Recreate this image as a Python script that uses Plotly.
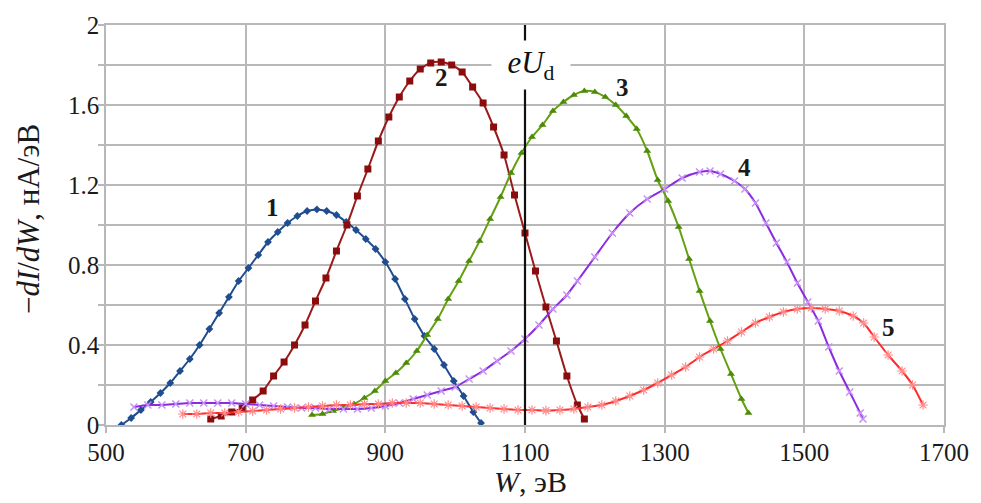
import plotly.graph_objects as go

# ---- data ----
w1 = [522, 536, 550, 564, 578, 592, 606, 620, 634, 648, 662, 676, 690, 704, 718, 732, 746, 760, 774, 788,
      802, 816, 830, 844, 858, 872, 886, 900, 914, 928, 942, 956, 970, 984, 998, 1012, 1026, 1037]
v1 = [0.00, 0.035, 0.075, 0.115, 0.16, 0.21, 0.27, 0.33, 0.40, 0.48, 0.56, 0.64, 0.72, 0.785, 0.85, 0.915,
      0.965, 1.01, 1.045, 1.07, 1.078, 1.07, 1.05, 1.015, 0.975, 0.93, 0.88, 0.815, 0.73, 0.63, 0.53, 0.445,
      0.38, 0.30, 0.22, 0.145, 0.065, 0.01]

w2 = [650, 665, 680, 695, 710, 725, 740, 755, 770, 785, 800, 815, 830, 845, 860, 875, 890, 905, 920, 935,
      950, 965, 980, 995, 1010, 1025, 1040, 1055, 1070, 1085, 1100, 1115, 1130, 1145, 1160, 1175, 1185]
v2 = [0.03, 0.045, 0.065, 0.085, 0.125, 0.17, 0.245, 0.315, 0.40, 0.50, 0.62, 0.735, 0.87, 1.00, 1.145,
      1.28, 1.42, 1.54, 1.64, 1.72, 1.78, 1.81, 1.815, 1.80, 1.765, 1.69, 1.61, 1.49, 1.35, 1.15, 0.96, 0.77,
      0.59, 0.42, 0.245, 0.10, 0.03]

w3 = [795, 810, 825, 840, 855, 870, 885, 900, 915, 930, 945, 960, 975, 990, 1005, 1020, 1035, 1050, 1065,
      1080, 1095, 1110, 1125, 1140, 1155, 1170, 1185, 1200, 1215, 1230, 1245, 1260, 1275, 1290, 1305, 1320,
      1335, 1350, 1365, 1380, 1395, 1410, 1420]
v3 = [0.05, 0.055, 0.07, 0.085, 0.105, 0.135, 0.17, 0.22, 0.26, 0.31, 0.37, 0.45, 0.53, 0.63, 0.72, 0.82,
      0.92, 1.03, 1.14, 1.26, 1.36, 1.44, 1.50, 1.57, 1.615, 1.65, 1.67, 1.665, 1.64, 1.60, 1.545, 1.48, 1.37,
      1.225, 1.12, 0.99, 0.83, 0.67, 0.52, 0.38, 0.255, 0.13, 0.06]

w4 = [540, 560, 580, 600, 620, 640, 660, 680, 700, 720, 740, 760, 780, 800, 820, 840, 860, 880, 900, 920,
      940, 960, 980, 1000, 1020, 1040, 1060, 1080, 1100, 1120, 1140, 1160, 1175, 1200, 1225, 1250, 1275,
      1300, 1325, 1350, 1365, 1380, 1400, 1415, 1430, 1445, 1460, 1475, 1490, 1505, 1520, 1535, 1550, 1565,
      1580, 1584]
v4 = [0.09, 0.10, 0.10, 0.105, 0.11, 0.11, 0.11, 0.11, 0.105, 0.10, 0.095, 0.09, 0.085, 0.085, 0.08, 0.08,
      0.08, 0.085, 0.095, 0.11, 0.13, 0.15, 0.17, 0.19, 0.23, 0.27, 0.32, 0.37, 0.43, 0.50, 0.58, 0.65, 0.72,
      0.84, 0.96, 1.06, 1.13, 1.18, 1.235, 1.265, 1.27, 1.255, 1.22, 1.18, 1.11, 1.01, 0.91, 0.815, 0.71,
      0.615, 0.52, 0.39, 0.27, 0.165, 0.06, 0.03]

w5 = [610, 630, 650, 670, 690, 710, 730, 750, 770, 790, 810, 830, 850, 870, 890, 910, 930, 950, 970, 990,
      1010, 1030, 1050, 1070, 1090, 1110, 1130, 1150, 1170, 1190, 1210, 1230, 1250, 1270, 1290, 1310, 1330,
      1350, 1370, 1390, 1410, 1430, 1450, 1470, 1490, 1510, 1530, 1550, 1570, 1585, 1600, 1620, 1640, 1655,
      1670]
v5 = [0.055, 0.055, 0.06, 0.06, 0.065, 0.07, 0.075, 0.08, 0.085, 0.09, 0.095, 0.10, 0.10, 0.105, 0.105,
      0.11, 0.11, 0.11, 0.105, 0.10, 0.095, 0.09, 0.085, 0.08, 0.075, 0.075, 0.072, 0.075, 0.08, 0.09, 0.10,
      0.12, 0.145, 0.175, 0.21, 0.25, 0.29, 0.34, 0.38, 0.42, 0.465, 0.51, 0.54, 0.565, 0.58, 0.585, 0.58,
      0.57, 0.545, 0.51, 0.44, 0.35, 0.27, 0.20, 0.10]

curve_labels = ["1", "2", "3", "4", "5"]
x_ticks = [500, 700, 900, 1100, 1300, 1500, 1700]
y_ticks = [0, 0.4, 0.8, 1.2, 1.6, 2]
y_tick_text = ["0", "0.4", "0.8", "1.2", "1.6", "2"]
eUd = 1100

SERIF = "Liberation Serif, Times New Roman, DejaVu Serif, serif"
TXT = "#1a1a1a"

fig = go.Figure()

series = [
    (w1, v1, "#1f4d8f", dict(symbol="diamond", size=6, color="#1f4d8f")),
    (w2, v2, "#9a1a1a", dict(symbol="square", size=7, color="#8b0c0c")),
    (w3, v3, "#62a010", dict(symbol="triangle-up", size=7, color="#4d8a08")),
    (w4, v4, "#8a2be2", dict(symbol="x-thin-open", size=7, color="#c690f5",
                             line=dict(width=1.5, color="#c690f5"))),
    (w5, v5, "#ff2a2a", dict(symbol="asterisk-open", size=8, color="#ff8c8c",
                             line=dict(width=1.2, color="#ff8c8c"))),
]
for xs, ys, col, mk in series:
    fig.add_trace(go.Scatter(x=xs, y=ys, mode="lines+markers",
                             line=dict(color=col, width=2, shape="spline", smoothing=0.6),
                             marker=mk, showlegend=False, hoverinfo="skip"))

# vertical eU_d line
fig.add_shape(type="line", x0=eUd, x1=eUd, y0=0, y1=2, xref="x", yref="y",
              line=dict(color="#111111", width=2.2), layer="above")

fig.add_annotation(x=eUd, y=1.8, xref="x", yref="y", text="<i>eU</i><sub>d</sub>",
                   showarrow=False, bgcolor="white", width=76, height=46,
                   xanchor="center", yanchor="middle",
                   font=dict(family=SERIF, size=31, color="#111111"), xshift=6)

label_pos = [(738, 1.09), (980, 1.74), (1240, 1.69), (1415, 1.29), (1620, 0.49)]
for t, (lx, ly) in zip(curve_labels, label_pos):
    fig.add_annotation(x=lx, y=ly, xref="x", yref="y", text=f"<b>{t}</b>", showarrow=False,
                       xanchor="center", yanchor="middle",
                       font=dict(family=SERIF, size=25, color=TXT))

# axis titles
fig.add_annotation(x=-0.093, y=0.515, xref="paper", yref="paper", textangle=-90,
                   xanchor="center", yanchor="middle",
                   text="\u2212<i>dI</i>/<i>dW</i>, нА/эВ", showarrow=False,
                   font=dict(family=SERIF, size=31, color=TXT))
fig.add_annotation(x=0.506, y=-0.142, xref="paper", yref="paper",
                   xanchor="center", yanchor="middle",
                   text="<i>W</i>, эВ", showarrow=False,
                   font=dict(family=SERIF, size=30, color=TXT))

grid_col = "#b8b8b8"
fig.update_layout(
    width=981, height=503,
    margin=dict(l=106, r=33, t=20, b=78),
    paper_bgcolor="white", plot_bgcolor="white",
    font=dict(family=SERIF),
    xaxis=dict(range=[500, 1700], tickvals=x_ticks, ticktext=[str(v) for v in x_ticks],
               showgrid=True, gridcolor=grid_col, gridwidth=1.6,
               showline=True, linecolor=grid_col, linewidth=1.6, mirror=True,
               ticks="outside", ticklen=6, tickcolor=grid_col, tickwidth=1.6,
               zeroline=False, ticklabelstandoff=-2,
               tickfont=dict(family=SERIF, size=25, color=TXT)),
    yaxis=dict(range=[0, 2], tickvals=y_ticks, ticktext=y_tick_text,
               showgrid=True, gridcolor=grid_col, gridwidth=1.6,
               showline=True, linecolor=grid_col, linewidth=1.6, mirror=True,
               ticks="outside", ticklen=6, tickcolor=grid_col, tickwidth=1.6,
               zeroline=False, ticklabelstandoff=-6,
               minor=dict(dtick=0.2, tick0=0, showgrid=True, gridcolor=grid_col, gridwidth=1.6,
                          ticks="outside", ticklen=6, tickcolor=grid_col, tickwidth=1.6),
               tickfont=dict(family=SERIF, size=25, color=TXT)),
)

fig.write_html("out.html")
